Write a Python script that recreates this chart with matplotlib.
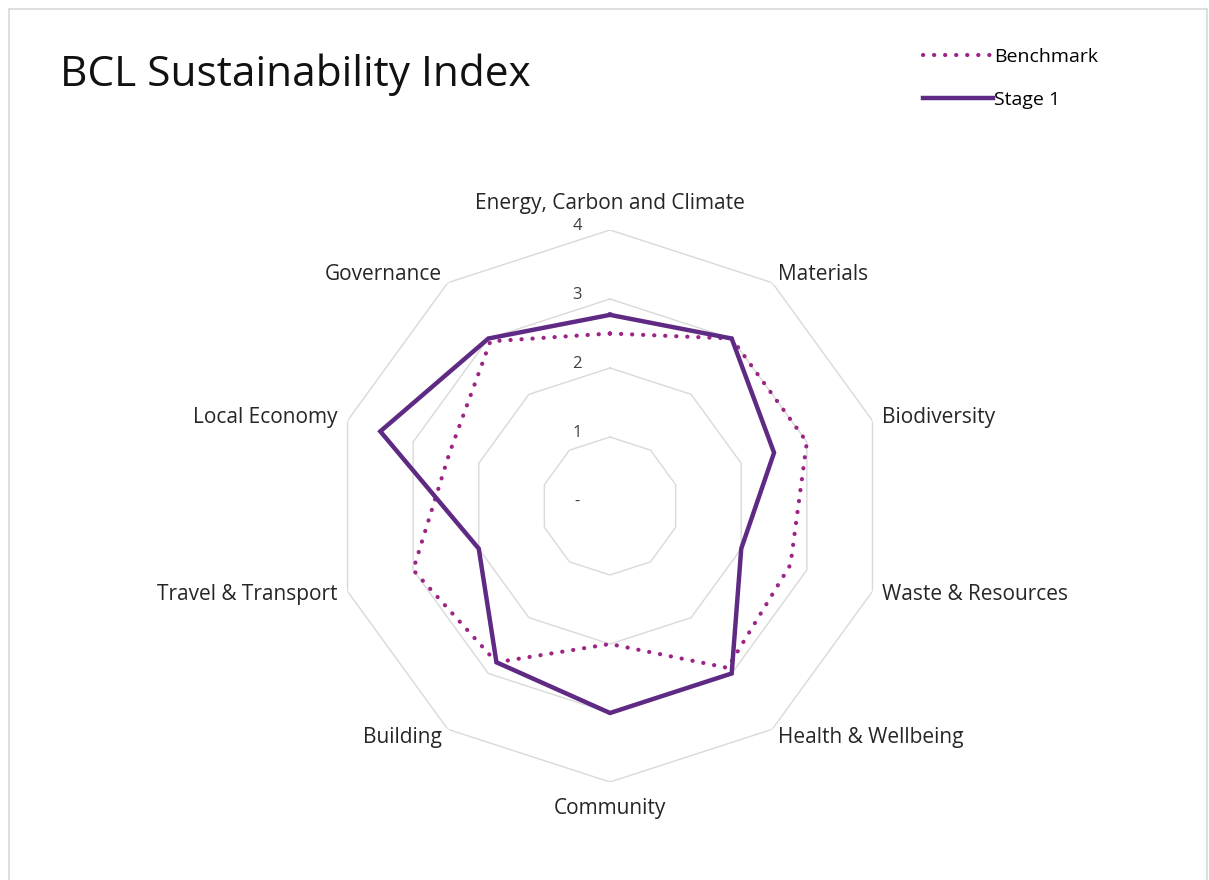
import numpy as np
import matplotlib
matplotlib.use('Agg')
import matplotlib.pyplot as plt
import matplotlib.patches as patches

plt.rcParams['font.family'] = ['Open Sans', 'DejaVu Sans']

# data
categories = ['Energy, Carbon and Climate', 'Materials', 'Biodiversity', 'Waste & Resources',
              'Health & Wellbeing', 'Community', 'Building', 'Travel & Transport',
              'Local Economy', 'Governance']
benchmark = [2.5, 3.0, 3.0, 2.75, 2.9, 2.0, 2.8, 3.0, 2.45, 2.95]
stage1 = [2.77, 3.0, 2.5, 2.0, 3.0, 3.0, 2.8, 2.0, 3.5, 3.0]
levels = [1, 2, 3, 4]
level_labels = ['-', '1', '2', '3', '4']

grid_col = '#d9d9d9'
stage_col = '#5f2a84'
bench_col = '#9c2485'

W, H = 1209, 880
fig = plt.figure(figsize=(W / 100, H / 100), dpi=100)

# light frame around chart area
fig.patches.append(patches.Rectangle((9 / W, -0.05), 1198 / W, 1.05 - 9 / H,
                                     transform=fig.transFigure, fill=False,
                                     edgecolor='#d9d9d9', lw=1.2))

# centre (610, 506), radius 276 px
cx, cy, R = 610, 506, 276
ax = fig.add_axes([(cx - R) / W, (H - cy - R) / H, 2 * R / W, 2 * R / H], projection='polar')
ax.set_theta_zero_location('N')
ax.set_theta_direction(-1)
ax.set_ylim(0, 4)
ax.grid(False)
ax.spines['polar'].set_visible(False)
ax.set_xticks([])
ax.set_yticks([])
ax.patch.set_alpha(0)

n = len(categories)
angles = np.linspace(0, 2 * np.pi, n, endpoint=False)
closed = np.append(angles, angles[0])

# polygon grid
for lv in levels:
    ax.plot(closed, [lv] * (n + 1), color=grid_col, lw=1.0, zorder=1)

# radial value labels
for i, lab in enumerate(level_labels):
    ax.annotate(lab, xy=(0, i), xytext=(-33, 4), textcoords='offset pixels',
                ha='center', va='center', fontsize=12, color='#404040')

# series
b_line, = ax.plot(closed, benchmark + benchmark[:1], color=bench_col, lw=3,
                  linestyle=(0, (0.05, 2.6)), dash_capstyle='round', zorder=3,
                  label='Benchmark')
s_line, = ax.plot(closed, stage1 + stage1[:1], color=stage_col, lw=3.2, zorder=4,
                  solid_joinstyle='miter', label='Stage 1')

# category labels
for ang, cat in zip(angles, categories):
    s = np.sin(ang)
    if abs(s) < 0.01:
        ax.text(ang, 4.38, cat, ha='center', va='center', fontsize=15, color='#262626')
    else:
        ha = 'left' if s > 0 else 'right'
        ax.text(ang, 4.15, cat, ha=ha, va='center', fontsize=15, color='#262626')

fig.text(60 / W, 1 - 75 / H, 'BCL Sustainability Index', fontsize=30.5, color='#111111',
         ha='left', va='center')

fig.legend(handles=[b_line, s_line], loc='upper left', bbox_to_anchor=(915 / W, 1 - 40 / H),
           frameon=False, fontsize=14, handlelength=3.6, handletextpad=0.05,
           labelspacing=1.3, borderaxespad=0)

fig.savefig('out.png', dpi=100, facecolor='white')
